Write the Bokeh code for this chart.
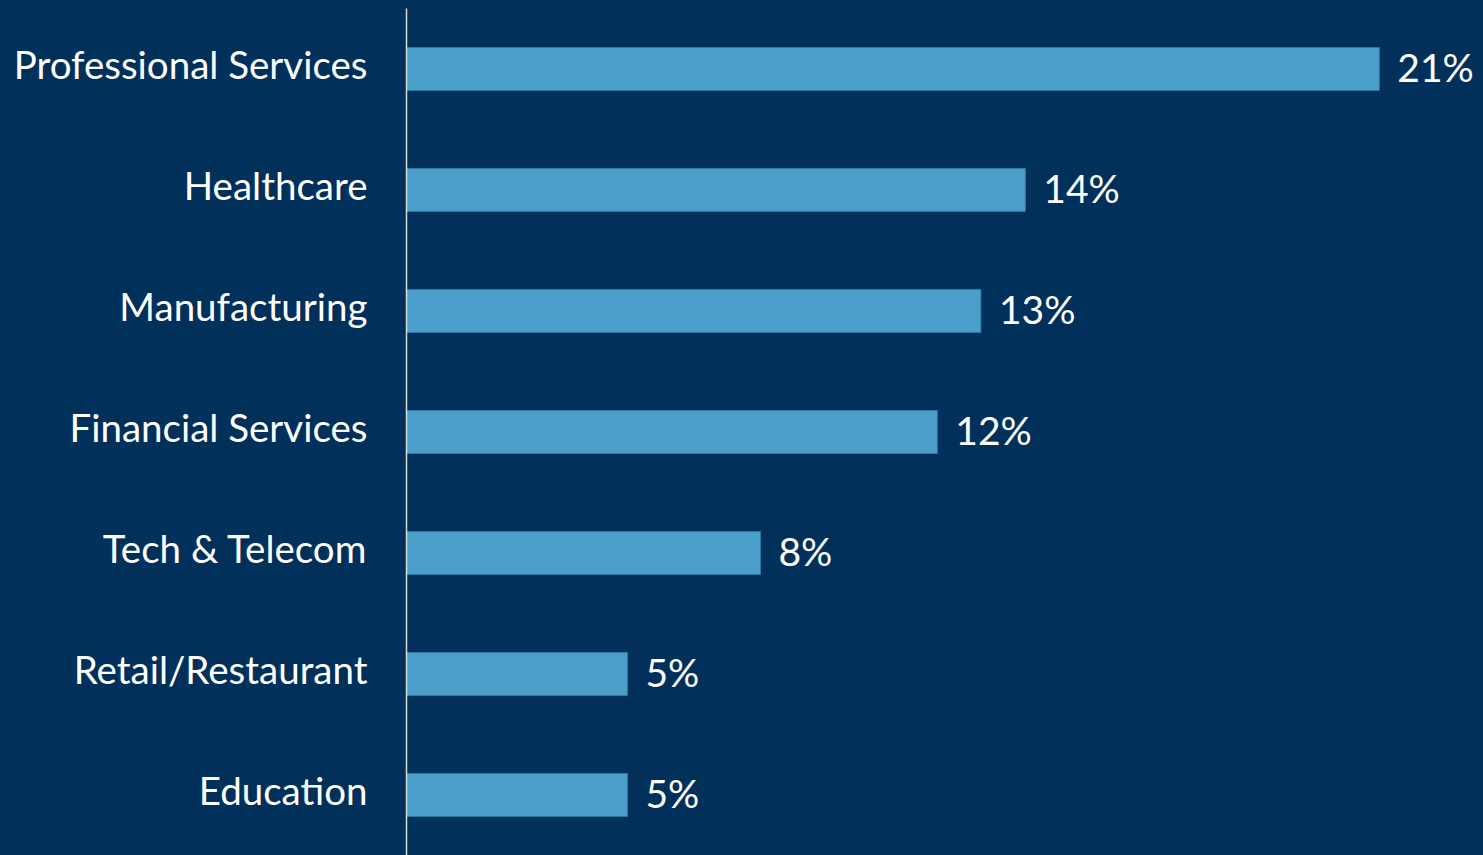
from bokeh.plotting import figure
from bokeh.models import ColumnDataSource, Range1d, FixedTicker
from bokeh.core.properties import value
from bokeh.embed import file_html
from bokeh.resources import INLINE

categories = ["Professional Services", "Healthcare", "Manufacturing", "Financial Services",
              "Tech & Telecom", "Retail/Restaurant", "Education"]
values = [21.0, 13.36, 12.4, 11.46, 7.64, 4.77, 4.77]
labels = ["21%", "14%", "13%", "12%", "8%", "5%", "5%"]

BG = "#01305A"
BAR = "#4BA0CB"
FONT = "Lato"

n = len(categories)
pos = [n - 1 - i for i in range(n)]
src = ColumnDataSource(dict(cat=categories, pos=pos, val=values, lab=labels))

p = figure(width=1483, height=855, output_backend="svg", toolbar_location=None,
           y_range=Range1d(-0.5, n - 0.5 + 8 / 121), x_range=Range1d(0, 23.25),
           min_border_left=406, min_border_top=0, min_border_bottom=0, min_border_right=0)
p.background_fill_color = BG
p.border_fill_color = BG
p.outline_line_color = None
p.xgrid.visible = False
p.ygrid.visible = False
p.xaxis.visible = False
p.styles = {"background-color": BG}

p.hbar(y="pos", left=0, right="val", height=0.355, source=src,
       fill_color=BAR, line_color="#2F78A6", line_width=1)
p.text(x="val", y="pos", text="lab", source=src, x_offset=18, y_offset=-2,
       text_baseline="middle", text_align="left", text_color="white",
       text_font=value(FONT), text_font_size="39px")

# category labels: ticks nudged slightly upward so text sits like the original
shift = 0.045
tick_pos = [round(v + shift, 4) for v in pos]
ax = p.yaxis[0]
ax.ticker = FixedTicker(ticks=tick_pos)
ax.major_label_overrides = {t: c for t, c in zip(tick_pos, categories)}
ax.bounds = (-0.5, n - 0.5)
ax.axis_line_color = "#D9D9D9"
ax.axis_line_width = 1.5
ax.major_tick_line_color = None
ax.major_tick_out = 0
ax.major_tick_in = 0
ax.minor_tick_line_color = None
ax.major_label_standoff = 39
ax.major_label_text_color = "white"
ax.major_label_text_font = FONT
ax.major_label_text_font_size = "38.5px"

html = file_html(p, INLINE)
css = "<style>html,body{margin:0;padding:0;background:%s;}</style>" % BG
html = html.replace("</head>", css + "</head>", 1)
open("out.html", "w").write(html)
